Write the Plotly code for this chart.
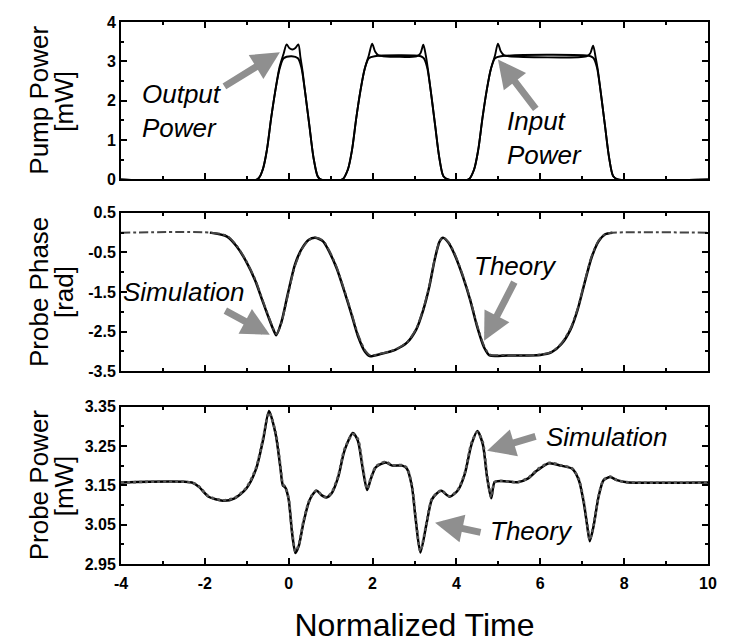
import plotly.graph_objects as go

# ---------------- data ----------------
# Top panel: pump power [mW]
pump_in_t = [-4.0, -0.75, -0.62, -0.52, -0.42, -0.32, -0.22, -0.12, 0.07, 0.22, 0.30, 0.38, 0.49, 0.59, 0.69, 0.76,
             1.28, 1.41, 1.51, 1.61, 1.71, 1.81, 1.91, 2.05, 3.15, 3.22, 3.30, 3.38, 3.49, 3.59, 3.69, 3.80,
             4.29, 4.42, 4.52, 4.62, 4.72, 4.82, 4.92, 5.06, 7.20, 7.27, 7.35, 7.43, 7.54, 7.64, 7.74, 7.85, 10.0]
pump_in_p = [0, 0, 0.25, 0.75, 1.55, 2.25, 2.8, 3.08, 3.13, 3.08, 2.85, 2.31, 1.39, 0.56, 0.08, 0,
             0, 0.25, 0.75, 1.55, 2.25, 2.8, 3.08, 3.13, 3.13, 3.08, 2.85, 2.31, 1.39, 0.56, 0.08, 0,
             0, 0.25, 0.75, 1.55, 2.25, 2.8, 3.08, 3.13, 3.13, 3.08, 2.85, 2.31, 1.39, 0.56, 0.08, 0, 0]

pump_out_t = [-4.0, -0.75, -0.62, -0.52, -0.42, -0.32, -0.22, -0.12, -0.05, 0.02, 0.09, 0.16, 0.23, 0.28, 0.33, 0.38, 0.49, 0.59, 0.69, 0.76,
              1.28, 1.41, 1.51, 1.61, 1.71, 1.81, 1.91, 1.99, 2.06, 2.14, 2.25, 3.05, 3.14, 3.21, 3.27, 3.32, 3.38, 3.49, 3.59, 3.69, 3.80,
              4.29, 4.42, 4.52, 4.62, 4.72, 4.82, 4.92, 4.99, 5.06, 5.14, 5.25, 7.10, 7.19, 7.26, 7.32, 7.37, 7.43, 7.54, 7.64, 7.74, 7.85, 10.0]
pump_out_p = [0, 0, 0.25, 0.75, 1.55, 2.25, 2.85, 3.2, 3.43, 3.33, 3.30, 3.34, 3.43, 3.1, 2.75, 2.31, 1.39, 0.56, 0.08, 0,
              0, 0.25, 0.75, 1.55, 2.25, 2.8, 3.15, 3.45, 3.25, 3.15, 3.13, 3.13, 3.2, 3.42, 3.15, 2.8, 2.31, 1.39, 0.56, 0.08, 0,
              0, 0.25, 0.75, 1.55, 2.25, 2.8, 3.15, 3.45, 3.25, 3.15, 3.13, 3.13, 3.2, 3.4, 3.1, 2.8, 2.31, 1.39, 0.56, 0.08, 0, 0]

# Middle panel: probe phase [rad]
phase_theory_t = [-1.88, -1.47, -1.24, -1.02, -0.80, -0.63, -0.46, -0.35, -0.30, -0.18, -0.02, 0.15, 0.32, 0.48, 0.63,
                  0.82, 0.98, 1.15, 1.32, 1.49, 1.65, 1.82, 1.93, 2.21, 2.54, 2.82, 3.04, 3.21, 3.35, 3.49,
                  3.60, 3.68, 3.82, 3.99, 4.16, 4.33, 4.49, 4.66, 4.79, 5.22, 6.00, 6.27, 6.50, 6.72, 6.89,
                  7.05, 7.22, 7.39, 7.55, 7.72]
phase_theory_v = [0.0, -0.10, -0.35, -0.72, -1.21, -1.71, -2.20, -2.49, -2.59, -2.28, -1.54, -0.80, -0.39, -0.18, -0.13,
                  -0.22, -0.51, -0.92, -1.46, -2.04, -2.61, -3.01, -3.12, -3.06, -2.96, -2.78, -2.45, -1.95, -1.38, -0.64,
                  -0.22, -0.13, -0.27, -0.64, -1.13, -1.71, -2.36, -2.90, -3.10, -3.10, -3.09, -3.02, -2.82, -2.45, -1.95,
                  -1.30, -0.64, -0.22, -0.04, 0.0]
phase_sim_t = [-4.0, -1.88, -1.47, -1.24, -1.02, -0.80, -0.63, -0.46, -0.35, -0.29, -0.18, -0.02, 0.15, 0.32, 0.48,
               0.63, 0.82, 0.98, 1.15, 1.32, 1.49, 1.65, 1.82, 1.95, 2.21, 2.54, 2.82, 3.04, 3.21, 3.35,
               3.49, 3.60, 3.68, 3.82, 3.99, 4.16, 4.33, 4.49, 4.66, 4.80, 5.22, 6.00, 6.27, 6.50, 6.72,
               6.89, 7.05, 7.22, 7.39, 7.55, 7.72, 10.0]
phase_sim_v = [0.0, 0.0, -0.08, -0.33, -0.70, -1.18, -1.68, -2.17, -2.47, -2.56, -2.30, -1.58, -0.84, -0.41, -0.19,
               -0.12, -0.20, -0.48, -0.89, -1.43, -2.00, -2.56, -2.97, -3.10, -3.05, -2.95, -2.77, -2.43, -1.92, -1.35,
               -0.62, -0.21, -0.12, -0.25, -0.61, -1.10, -1.68, -2.32, -2.86, -3.08, -3.09, -3.08, -3.01, -2.80, -2.42,
               -1.92, -1.27, -0.61, -0.20, -0.03, 0.0, 0.0]

# Bottom panel: probe power [mW]
probe_t = [-4.0, -2.31, -2.14, -1.91, -1.57, -1.29, -1.01, -0.78, -0.61, -0.47, -0.31, -0.20, -0.14, -0.08, 0.0,
           0.08, 0.16, 0.24, 0.35, 0.47, 0.56, 0.67, 0.78, 0.90, 1.02, 1.18, 1.33, 1.53, 1.65, 1.76,
           1.87, 1.96, 2.08, 2.31, 2.47, 2.71, 2.82, 2.94, 3.02, 3.14, 3.29, 3.41, 3.53, 3.64, 3.84,
           4.04, 4.20, 4.36, 4.50, 4.63, 4.73, 4.83, 4.91, 5.07, 5.46, 5.70, 5.93, 6.21, 6.49, 6.76,
           6.92, 7.04, 7.12, 7.18, 7.27, 7.39, 7.51, 7.67, 7.83, 8.06, 10.0]
probe_theory = [3.157, 3.157, 3.146, 3.121, 3.111, 3.117, 3.142, 3.191, 3.266, 3.339, 3.279, 3.196, 3.150, 3.144, 3.113,
                3.029, 2.978, 2.996, 3.054, 3.104, 3.125, 3.136, 3.125, 3.119, 3.129, 3.171, 3.238, 3.283, 3.263, 3.196,
                3.138, 3.167, 3.196, 3.208, 3.200, 3.200, 3.192, 3.146, 3.071, 2.979, 3.054, 3.113, 3.129, 3.136, 3.121,
                3.138, 3.179, 3.254, 3.288, 3.254, 3.171, 3.117, 3.158, 3.161, 3.158, 3.167, 3.188, 3.206, 3.200, 3.192,
                3.163, 3.104, 3.046, 3.008, 3.046, 3.121, 3.163, 3.171, 3.163, 3.158, 3.157]
probe_sim = [3.157, 3.157, 3.147, 3.122, 3.112, 3.118, 3.144, 3.194, 3.270, 3.335, 3.284, 3.202, 3.153, 3.146, 3.116,
             3.034, 2.982, 2.999, 3.058, 3.106, 3.126, 3.137, 3.126, 3.120, 3.131, 3.174, 3.242, 3.280, 3.268, 3.201,
             3.141, 3.169, 3.198, 3.210, 3.201, 3.201, 3.194, 3.150, 3.076, 2.983, 3.057, 3.115, 3.130, 3.137, 3.122,
             3.140, 3.182, 3.258, 3.285, 3.259, 3.176, 3.120, 3.158, 3.161, 3.158, 3.168, 3.190, 3.207, 3.201, 3.193,
             3.166, 3.108, 3.050, 3.011, 3.049, 3.123, 3.164, 3.172, 3.163, 3.158, 3.157]

x_ticks = [-4, -2, 0, 2, 4, 6, 8, 10]
x_tick_text = ["-4", "-2", "0", "2", "4", "6", "8", "10"]
pump_ticks = [0, 1, 2, 3, 4]
pump_tick_text = ["0", "1", "2", "3", "4"]
phase_ticks = [0.5, -0.5, -1.5, -2.5, -3.5]
phase_tick_text = ["0.5", "-0.5", "-1.5", "-2.5", "-3.5"]
probe_ticks = [3.35, 3.25, 3.15, 3.05, 2.95]
probe_tick_text = ["3.35", "3.25", "3.15", "3.05", "2.95"]

# ---------------- figure ----------------
FONT = "Liberation Sans, Arial, Helvetica, sans-serif"
W, H = 731, 635            # page body adds an 8px margin
ML, MR, MT, MB = 113, 31, 6, 78
PW = W - ML - MR

fig = go.Figure()

fig.add_trace(go.Scatter(x=pump_in_t, y=pump_in_p, mode="lines", xaxis="x", yaxis="y",
                         line=dict(color="black", width=1.9, shape="spline", smoothing=0.8), name="Input Power"))
fig.add_trace(go.Scatter(x=pump_out_t, y=pump_out_p, mode="lines", xaxis="x", yaxis="y",
                         line=dict(color="black", width=1.9, shape="spline", smoothing=0.8), name="Output Power"))

fig.add_trace(go.Scatter(x=phase_theory_t, y=phase_theory_v, mode="lines", xaxis="x2", yaxis="y2",
                         line=dict(color="black", width=2.5, shape="spline", smoothing=0.7), name="Theory"))
fig.add_trace(go.Scatter(x=phase_sim_t, y=phase_sim_v, mode="lines", xaxis="x2", yaxis="y2",
                         line=dict(color="#444", width=2, dash="dashdot", shape="spline", smoothing=0.7), name="Simulation"))

fig.add_trace(go.Scatter(x=probe_t, y=probe_theory, mode="lines", xaxis="x3", yaxis="y3",
                         line=dict(color="black", width=2.5, shape="spline", smoothing=0.7), name="Theory"))
fig.add_trace(go.Scatter(x=probe_t, y=probe_sim, mode="lines", xaxis="x3", yaxis="y3",
                         line=dict(color="#555", width=2.6, dash="dot", shape="spline", smoothing=0.7), name="Simulation"))

axis_common = dict(showline=True, linecolor="black", linewidth=2, mirror="ticks", ticks="inside",
                   ticklen=6, tickwidth=1.5, tickcolor="black", showgrid=False, zeroline=False)
tickfont = dict(family=FONT, size=16, color="black", weight="bold")

xcommon = dict(axis_common, range=[-4, 10], tickvals=x_ticks, ticktext=x_tick_text,
               minor=dict(dtick=1, tick0=0, ticks="inside", ticklen=3, tickcolor="black"))

d_top = [0.7096, 1.0]
d_mid = [0.3557, 0.6479]
d_bot = [0.0, 0.2904]

fig.update_layout(
    width=W, height=H, paper_bgcolor="white", plot_bgcolor="white", showlegend=False,
    margin=dict(l=ML, r=MR, t=MT, b=MB),
    xaxis=dict(xcommon, domain=[0, 1], anchor="y", showticklabels=False),
    xaxis2=dict(xcommon, domain=[0, 1], anchor="y2", showticklabels=False),
    xaxis3=dict(xcommon, domain=[0, 1], anchor="y3", showticklabels=True, tickfont=tickfont,
                ticklabelstandoff=4,
                title=dict(text="Normalized Time", font=dict(family=FONT, size=32, color="black"), standoff=22)),
    yaxis=dict(axis_common, domain=d_top, anchor="x", range=[0, 4], tickvals=pump_ticks, ticktext=pump_tick_text,
               tickfont=tickfont, minor=dict(dtick=0.5, ticks="inside", ticklen=3, tickcolor="black")),
    yaxis2=dict(axis_common, domain=d_mid, anchor="x2", range=[-3.5, 0.5], tickvals=phase_ticks,
                ticktext=phase_tick_text, tickfont=tickfont,
                minor=dict(dtick=0.5, tick0=0.5, ticks="inside", ticklen=3, tickcolor="black")),
    yaxis3=dict(axis_common, domain=d_bot, anchor="x3", range=[2.95, 3.35], tickvals=probe_ticks,
                ticktext=probe_tick_text, tickfont=tickfont,
                minor=dict(dtick=0.05, tick0=2.95, ticks="inside", ticklen=3, tickcolor="black")),
)

# y-axis titles (two lines each)
ytitle_font = dict(family=FONT, size=26, color="black")
for yref, line1, line2 in [("y domain", "Pump Power", "[mW]"),
                           ("y2 domain", "Probe Phase", "[rad]"),
                           ("y3 domain", "Probe Power", "[mW]")]:
    fig.add_annotation(text=line1, xref="paper", yref=yref, x=(31 - ML) / PW, y=0.5,
                       textangle=-90, showarrow=False, font=ytitle_font, xanchor="center", yanchor="middle")
    fig.add_annotation(text=line2, xref="paper", yref=yref, x=(56 - ML) / PW, y=0.5,
                       textangle=-90, showarrow=False, font=ytitle_font, xanchor="center", yanchor="middle")

lab_font = dict(family=FONT, size=26, color="black", style="italic")
arrow = dict(showarrow=True, arrowhead=2, arrowsize=0.8, arrowwidth=7, arrowcolor="#8f8f8f", axref="pixel", ayref="pixel")

# labels
fig.add_annotation(text="Output<br>Power", x=-2.55, y=1.75, xref="x", yref="y", showarrow=False, font=lab_font, align="left")
fig.add_annotation(text="Input<br>Power", x=6.11, y=1.05, xref="x", yref="y", showarrow=False, font=lab_font, align="left")
fig.add_annotation(text="Simulation", x=-2.52, y=-1.5, xref="x2", yref="y2", showarrow=False, font=lab_font)
fig.add_annotation(text="Theory", x=5.42, y=-0.84, xref="x2", yref="y2", showarrow=False, font=lab_font)
fig.add_annotation(text="Simulation", x=7.57, y=3.2725, xref="x3", yref="y3", showarrow=False, font=lab_font)
fig.add_annotation(text="Theory", x=5.80, y=3.035, xref="x3", yref="y3", showarrow=False, font=lab_font)

# arrows
fig.add_annotation(x=-0.21, y=3.23, xref="x", yref="y", ax=-57, ay=35, text="", **arrow)
fig.add_annotation(x=4.99, y=3.05, xref="x", yref="y", ax=39, ay=51, text="", **arrow)
fig.add_annotation(x=-0.45, y=-2.58, xref="x2", yref="y2", ax=-46, ay=-25, text="", **arrow)
fig.add_annotation(x=4.66, y=-2.73, xref="x2", yref="y2", ax=31, ay=-60, text="", **arrow)
fig.add_annotation(x=4.73, y=3.2375, xref="x3", yref="y3", ax=50, ay=-15, text="", **arrow)
fig.add_annotation(x=3.49, y=3.055, xref="x3", yref="y3", ax=47, ay=10, text="", **arrow)

fig.write_html("out.html")
